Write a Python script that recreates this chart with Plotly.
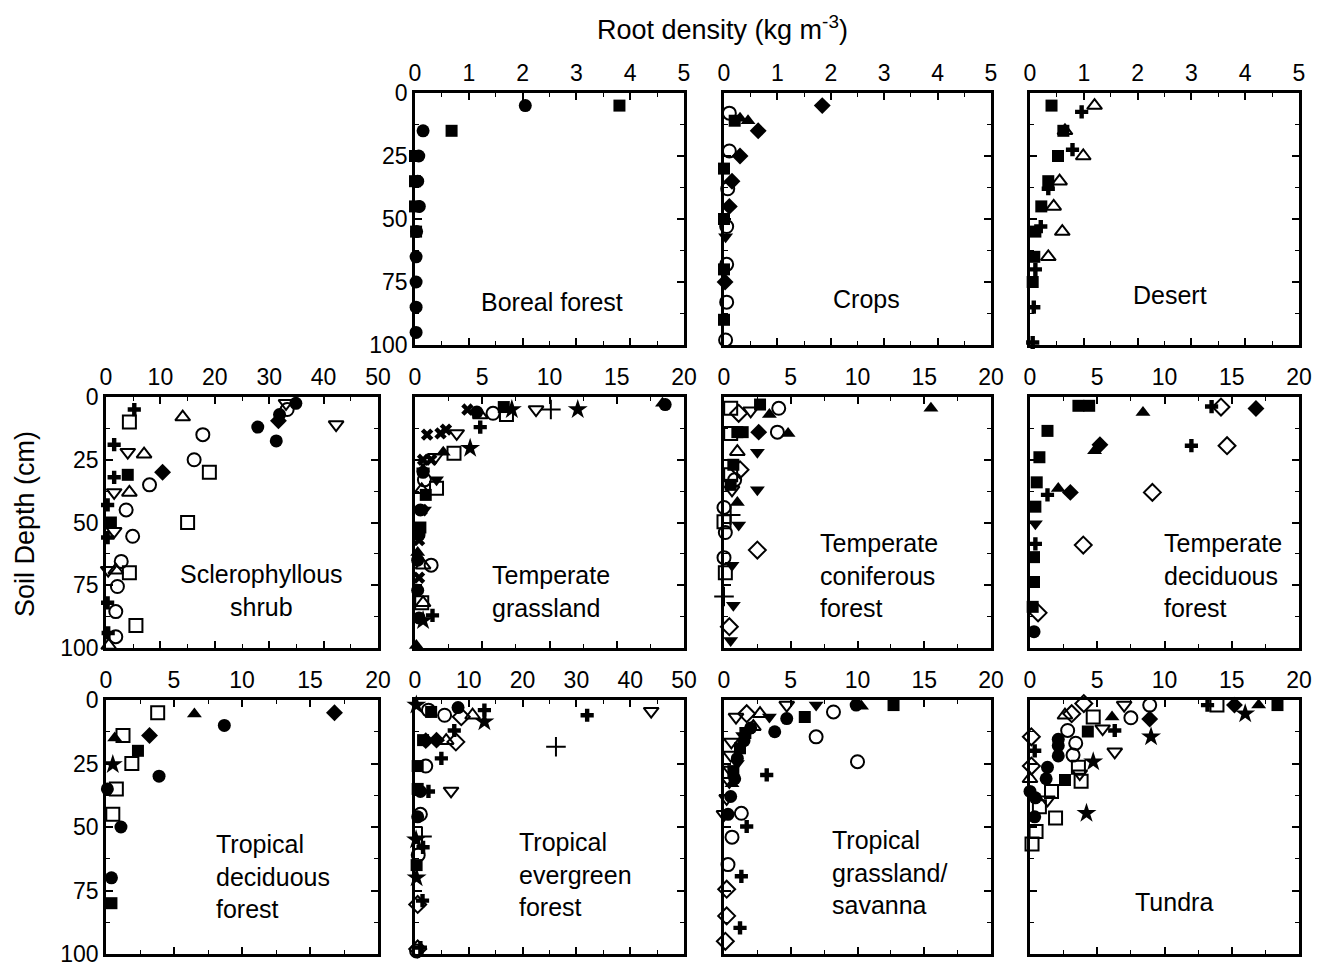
import plotly.graph_objects as go

# ===================== DATA (root density kg m-3 vs soil depth cm) =====================
# ---- Boreal forest
boreal_fc_x = [2.05, 0.15, 0.07, 0.05, 0.08, 0.03, 0.02, 0.02, 0.02, 0.02]
boreal_fc_y = [5, 15, 25, 35, 45, 55, 65, 75, 85, 95]
boreal_fs_x = [3.8, 0.68, 0.0, 0.0, 0.0, 0.02]
boreal_fs_y = [5, 15, 25, 35, 45, 55]

# ---- Crops
crops_fd_x = [1.84, 0.64, 0.3, 0.15, 0.1, 0.02]
crops_fd_y = [5, 15, 25, 35, 45, 75]
crops_oc_x = [0.1, 0.1, 0.07, 0.05, 0.05, 0.05, 0.03]
crops_oc_y = [8, 23, 38, 53, 68, 83, 98]
crops_ft_x = [0.3, 0.45]
crops_ft_y = [10, 11]
crops_fs_x = [0.2, 0.0, 0.0, 0.0, 0.0]
crops_fs_y = [11, 30, 50, 70, 90]
crops_fv_x = [0.03]
crops_fv_y = [57]

# ---- Desert
desert_fs_x = [0.4, 0.62, 0.52, 0.34, 0.21, 0.1, 0.08, 0.05]
desert_fs_y = [5, 15, 25, 35, 45, 55, 65, 75]
desert_ot_x = [1.2, 0.65, 0.99, 0.55, 0.44, 0.6, 0.34]
desert_ot_y = [5, 15, 25, 35, 45, 55, 65]
desert_cl_x = [0.96, 0.79, 0.34, 0.2, 0.1, 0.07, 0.05]
desert_cl_y = [7.5, 22.5, 38, 53, 70, 85, 99]

# ---- Sclerophyllous shrub
scler_fc_x = [27.9, 31.9, 31.3, 34.9]
scler_fc_y = [12, 7, 17.5, 2.5]
scler_fd_x = [31.7, 10.4]
scler_fd_y = [9.5, 30]
scler_oc_x = [17.8, 33.3, 16.2, 8.0, 3.7, 4.9, 2.8, 2.1, 1.8, 1.8]
scler_oc_y = [15, 5, 25, 35, 45, 55.5, 65.5, 75.5, 85.5, 95.5]
scler_os_x = [4.3, 19.0, 15.0, 4.3, 5.5]
scler_os_y = [10, 30, 50, 70, 91]
scler_ot_x = [14.1, 7.0, 4.3, 1.8, 0.5]
scler_ot_y = [8, 22.8, 38, 69, 99]
scler_ov_x = [33.1, 42.3, 4.0, 1.5, 1.5, 0.4]
scler_ov_y = [2.5, 11, 22, 38, 53.5, 69]
scler_cl_x = [5.2, 1.5, 1.5, 0.3, 0.3, 0.3, 0.4]
scler_cl_y = [5, 19, 32, 43, 56, 82, 94]
scler_fs_x = [4.0, 0.9]
scler_fs_y = [31, 50]

# ---- Temperate grassland
tgrass_ft_x = [18.4, 2.1, 0.2, 0.1]
tgrass_ft_y = [2.5, 22, 62, 99]
tgrass_fc_x = [18.6, 4.6, 0.6, 0.4, 0.3, 0.2, 0.2, 0.3]
tgrass_fc_y = [3, 6, 30, 45, 55, 65, 77, 88]
tgrass_ot_x = [4.85, 0.5, 0.6, 0.6]
tgrass_ot_y = [7.2, 37, 67, 82]
tgrass_oc_x = [5.8, 0.7, 1.2]
tgrass_oc_y = [6.5, 33, 67]
tgrass_os_x = [6.8, 2.9, 1.6, 0.5]
tgrass_os_y = [7, 22.4, 36.4, 82]
tgrass_fs_x = [6.6, 0.8, 0.4]
tgrass_fs_y = [4, 39, 52]
tgrass_st_x = [7.2, 12.1, 4.1, 0.6]
tgrass_st_y = [5, 5, 20.4, 89]
tgrass_ov_x = [9.0, 3.1, 1.5]
tgrass_ov_y = [5, 14.5, 24]
tgrass_pl_x = [10.1]
tgrass_pl_y = [5]
tgrass_cl_x = [4.85, 0.6, 1.3]
tgrass_cl_y = [12, 29, 87]
tgrass_xm_x = [3.9, 0.9, 1.9, 2.3, 0.6, 1.2, 0.5, 0.3, 0.3]
tgrass_xm_y = [5, 15, 14.5, 13, 25, 25, 45, 57, 72]
tgrass_fv_x = [1.6, 0.7]
tgrass_fv_y = [33, 45]

# ---- Temperate coniferous forest
tconif_os_x = [0.5, 0.5, 0.5, 0.0, 0.1]
tconif_os_y = [4.5, 14.5, 31, 49.7, 70]
tconif_od_x = [1.1, 1.2, 2.5, 0.4]
tconif_od_y = [6.5, 29, 61, 91.5]
tconif_ov_x = [2.0, 0.6]
tconif_ov_y = [5.5, 37]
tconif_oc_x = [4.1, 4.0, 0.8, 0.0, 0.1, 0.0]
tconif_oc_y = [4.5, 14, 33, 44, 54, 64]
tconif_ft_x = [15.5, 3.4, 4.8, 1.0]
tconif_ft_y = [4.5, 7, 14.5, 42]
tconif_fs_x = [2.7, 1.4, 1.0, 0.7, 0.5]
tconif_fs_y = [3, 14, 14, 27, 35]
tconif_fd_x = [2.6]
tconif_fd_y = [14]
tconif_ot_x = [1.0]
tconif_ot_y = [21.8]
tconif_fv_x = [2.5, 2.5, 1.1, 0.6, 0.7, 0.5]
tconif_fv_y = [22, 37, 51, 67, 83, 97]
tconif_pl_x = [0.0, 0.5]
tconif_pl_y = [79.5, 47]

# ---- Temperate deciduous forest
tdecid_fs_x = [3.6, 4.4, 1.3, 0.7, 0.5, 0.4, 0.3, 0.3, 0.2]
tdecid_fs_y = [3.5, 3.5, 13.5, 24, 34, 43.7, 63.8, 73.7, 83.6]
tdecid_ft_x = [8.4, 4.8, 2.1]
tdecid_ft_y = [6.2, 21.4, 36.5]
tdecid_cl_x = [13.5, 12.0, 1.3, 0.4]
tdecid_cl_y = [3.8, 19.4, 39, 58.5]
tdecid_od_x = [14.2, 14.65, 9.1, 3.96, 0.6]
tdecid_od_y = [4, 19.4, 38, 59, 86]
tdecid_fd_x = [16.8, 5.2, 3.0]
tdecid_fd_y = [4.6, 19, 38]
tdecid_fv_x = [0.4]
tdecid_fv_y = [50.5]
tdecid_fc_x = [0.3]
tdecid_fc_y = [93.5]

# ---- Tropical deciduous forest
tropdec_os_x = [3.8, 1.25, 1.9, 0.76, 0.5]
tropdec_os_y = [5, 14, 25, 35, 45]
tropdec_ft_x = [6.5, 0.64]
tropdec_ft_y = [5.5, 15]
tropdec_fc_x = [8.7, 3.9, 1.1, 0.4, 0.1]
tropdec_fc_y = [10, 30, 50, 70, 35]
tropdec_fd_x = [16.8, 3.2]
tropdec_fd_y = [5, 14]
tropdec_fs_x = [2.35, 0.4]
tropdec_fs_y = [20, 80]
tropdec_st_x = [0.5]
tropdec_st_y = [25.4]

# ---- Tropical evergreen forest
tropev_st_x = [0.25, 12.9, 0.3, 0.2]
tropev_st_y = [2, 8.6, 70, 55]
tropev_fs_x = [3.0, 1.5, 0.5, 0.5, 0.3]
tropev_fs_y = [4.7, 15.8, 26, 35, 65]
tropev_oc_x = [5.5, 2.0, 1.0, 0.6, 0.3, 2.5]
tropev_oc_y = [6, 26, 45, 61, 98.8, 4]
tropev_fc_x = [8.0, 1.0, 0.5]
tropev_fc_y = [3, 36, 46]
tropev_od_x = [8.6, 7.6, 0.5, 0.5]
tropev_od_y = [6.6, 16.5, 80.5, 98]
tropev_ot_x = [10.7, 5.8]
tropev_ot_y = [6, 16]
tropev_cl_x = [12.9, 32.0, 7.3, 4.9, 1.5, 1.4, 1.0, 2.5]
tropev_cl_y = [4, 6, 12, 23, 58, 79, 97.5, 36]
tropev_ov_x = [43.9, 6.7]
tropev_ov_y = [4.4, 35.8]
tropev_pl_x = [26.2, 1.3]
tropev_pl_y = [18.4, 53.7]
tropev_fd_x = [4.0, 2.0]
tropev_fd_y = [15.8, 16]

# ---- Tropical grassland / savanna
tropgr_ov_x = [0.9, 4.7, 0.55, 0.5, 0.5, 0.4, 0.2, 0.0]
tropgr_ov_y = [6.7, 2, 16.5, 21.7, 27.6, 32, 38.7, 45]
tropgr_od_x = [1.7, 0.2, 0.2, 0.1]
tropgr_od_y = [5.4, 74.5, 85, 95]
tropgr_ot_x = [2.7, 2.2]
tropgr_ot_y = [5.4, 10.5]
tropgr_fv_x = [3.4, 6.9, 1.4, 1.0]
tropgr_fv_y = [6.7, 2, 14, 25]
tropgr_fc_x = [4.7, 3.8, 2.0, 1.5, 1.0, 0.8, 0.5, 0.3, 9.9]
tropgr_fc_y = [7.3, 12.5, 11, 16, 23, 31, 38, 45, 2]
tropgr_fs_x = [6.05, 12.7, 1.6, 1.2, 0.7]
tropgr_fs_y = [6.7, 2, 13, 19, 28]
tropgr_oc_x = [8.2, 6.9, 10.0, 1.3, 0.6, 0.3]
tropgr_oc_y = [4.7, 14.5, 24.3, 44.6, 54, 64.8]
tropgr_ft_x = [10.3, 1.7, 0.6]
tropgr_ft_y = [2.5, 12, 33]
tropgr_cl_x = [3.2, 1.7, 1.3, 1.2]
tropgr_cl_y = [29.5, 49.8, 69.4, 89.7]

# ---- Tundra
tundra_od_x = [4.0, 3.1, 0.1, 0.1]
tundra_od_y = [1.4, 5.4, 14.5, 26]
tundra_ov_x = [7.0, 5.4, 6.3, 1.3, 3.7]
tundra_ov_y = [2, 11.3, 20.4, 39.3, 29]
tundra_oc_x = [8.9, 7.5, 2.8, 3.4, 3.2]
tundra_oc_y = [2, 7, 12, 17, 21.7]
tundra_os_x = [13.9, 4.7, 3.6, 3.8, 1.6, 0.7, 1.9, 0.45, 0.15]
tundra_os_y = [2, 6.7, 26.5, 32, 36, 42, 46.5, 51.8, 56.7]
tundra_fd_x = [15.2, 8.9]
tundra_fd_y = [2, 7.5]
tundra_st_x = [16.0, 9.0, 4.7, 4.2]
tundra_st_y = [5.4, 14.5, 24.3, 44.6]
tundra_ft_x = [17.0, 6.1]
tundra_ft_y = [2, 6.7]
tundra_fs_x = [18.4, 4.3, 2.6]
tundra_fs_y = [2, 12.4, 31.5]
tundra_ot_x = [2.6, 0.0]
tundra_ot_y = [6, 31]
tundra_cl_x = [6.3, 0.35, 13.2]
tundra_cl_y = [12, 20, 2]
tundra_fc_x = [2.1, 2.1, 2.1, 1.3, 1.2, 0.0, 0.4, 0.35]
tundra_fc_y = [15.5, 18, 22, 26.5, 31, 36, 38.5, 46]

# tick labels
depth_ticks = [0, 25, 50, 75, 100]

# ===================== STYLE =====================
STY = {
    'fc': ('circle', 13), 'oc': ('circle-open', 13),
    'fs': ('square', 12), 'os': ('square-open', 13),
    'fd': ('diamond', 13), 'od': ('diamond-open', 13),
    'ft': ('triangle-up', 13), 'ot': ('triangle-up-open', 13),
    'fv': ('triangle-down', 13), 'ov': ('triangle-down-open', 13),
    'st': ('star', 15), 'pl': ('cross-thin-open', 14),
    'cl': ('cross', 11), 'xm': ('x', 11),
}

panels = [
    dict(row=0, col=1, xmax=5, series=[('fc', boreal_fc_x, boreal_fc_y), ('fs', boreal_fs_x, boreal_fs_y)]),
    dict(row=0, col=2, xmax=5, series=[('fd', crops_fd_x, crops_fd_y), ('ft', crops_ft_x, crops_ft_y),
                                       ('fs', crops_fs_x, crops_fs_y), ('fv', crops_fv_x, crops_fv_y),
                                       ('oc', crops_oc_x, crops_oc_y)]),
    dict(row=0, col=3, xmax=5, series=[('fs', desert_fs_x, desert_fs_y), ('ot', desert_ot_x, desert_ot_y),
                                       ('cl', desert_cl_x, desert_cl_y)]),
    dict(row=1, col=0, xmax=50, series=[('fc', scler_fc_x, scler_fc_y), ('fd', scler_fd_x, scler_fd_y),
                                        ('oc', scler_oc_x, scler_oc_y), ('os', scler_os_x, scler_os_y),
                                        ('ot', scler_ot_x, scler_ot_y), ('ov', scler_ov_x, scler_ov_y),
                                        ('cl', scler_cl_x, scler_cl_y), ('fs', scler_fs_x, scler_fs_y)]),
    dict(row=1, col=1, xmax=20, series=[('ft', tgrass_ft_x, tgrass_ft_y), ('fc', tgrass_fc_x, tgrass_fc_y),
                                        ('ot', tgrass_ot_x, tgrass_ot_y), ('oc', tgrass_oc_x, tgrass_oc_y),
                                        ('os', tgrass_os_x, tgrass_os_y), ('fs', tgrass_fs_x, tgrass_fs_y),
                                        ('st', tgrass_st_x, tgrass_st_y), ('ov', tgrass_ov_x, tgrass_ov_y),
                                        ('pl', tgrass_pl_x, tgrass_pl_y), ('cl', tgrass_cl_x, tgrass_cl_y),
                                        ('xm', tgrass_xm_x, tgrass_xm_y), ('fv', tgrass_fv_x, tgrass_fv_y)]),
    dict(row=1, col=2, xmax=20, series=[('os', tconif_os_x, tconif_os_y), ('od', tconif_od_x, tconif_od_y),
                                        ('ov', tconif_ov_x, tconif_ov_y), ('oc', tconif_oc_x, tconif_oc_y),
                                        ('ft', tconif_ft_x, tconif_ft_y), ('fs', tconif_fs_x, tconif_fs_y),
                                        ('fd', tconif_fd_x, tconif_fd_y), ('ot', tconif_ot_x, tconif_ot_y),
                                        ('fv', tconif_fv_x, tconif_fv_y), ('pl', tconif_pl_x, tconif_pl_y)]),
    dict(row=1, col=3, xmax=20, series=[('fs', tdecid_fs_x, tdecid_fs_y), ('ft', tdecid_ft_x, tdecid_ft_y),
                                        ('cl', tdecid_cl_x, tdecid_cl_y), ('od', tdecid_od_x, tdecid_od_y),
                                        ('fd', tdecid_fd_x, tdecid_fd_y), ('fv', tdecid_fv_x, tdecid_fv_y),
                                        ('fc', tdecid_fc_x, tdecid_fc_y)]),
    dict(row=2, col=0, xmax=20, series=[('os', tropdec_os_x, tropdec_os_y), ('ft', tropdec_ft_x, tropdec_ft_y),
                                        ('fc', tropdec_fc_x, tropdec_fc_y), ('fd', tropdec_fd_x, tropdec_fd_y),
                                        ('fs', tropdec_fs_x, tropdec_fs_y), ('st', tropdec_st_x, tropdec_st_y)]),
    dict(row=2, col=1, xmax=50, series=[('st', tropev_st_x, tropev_st_y), ('fs', tropev_fs_x, tropev_fs_y),
                                        ('oc', tropev_oc_x, tropev_oc_y), ('fc', tropev_fc_x, tropev_fc_y),
                                        ('od', tropev_od_x, tropev_od_y), ('ot', tropev_ot_x, tropev_ot_y),
                                        ('cl', tropev_cl_x, tropev_cl_y), ('ov', tropev_ov_x, tropev_ov_y),
                                        ('pl', tropev_pl_x, tropev_pl_y), ('fd', tropev_fd_x, tropev_fd_y)]),
    dict(row=2, col=2, xmax=20, series=[('ov', tropgr_ov_x, tropgr_ov_y), ('od', tropgr_od_x, tropgr_od_y),
                                        ('ot', tropgr_ot_x, tropgr_ot_y), ('fv', tropgr_fv_x, tropgr_fv_y),
                                        ('fc', tropgr_fc_x, tropgr_fc_y), ('fs', tropgr_fs_x, tropgr_fs_y),
                                        ('oc', tropgr_oc_x, tropgr_oc_y), ('ft', tropgr_ft_x, tropgr_ft_y),
                                        ('cl', tropgr_cl_x, tropgr_cl_y)]),
    dict(row=2, col=3, xmax=20, series=[('od', tundra_od_x, tundra_od_y), ('ov', tundra_ov_x, tundra_ov_y),
                                        ('oc', tundra_oc_x, tundra_oc_y), ('os', tundra_os_x, tundra_os_y),
                                        ('fd', tundra_fd_x, tundra_fd_y), ('st', tundra_st_x, tundra_st_y),
                                        ('ft', tundra_ft_x, tundra_ft_y), ('fs', tundra_fs_x, tundra_fs_y),
                                        ('ot', tundra_ot_x, tundra_ot_y), ('cl', tundra_cl_x, tundra_cl_y),
                                        ('fc', tundra_fc_x, tundra_fc_y)]),
]

OFF = 8                      # page body margin of the html page
W, H = 1321 - OFF, 970 - OFF
COLS = [(106, 378), (415, 684), (724, 991), (1030, 1299)]
ROWS = [(93, 345), (397, 648), (700, 954)]
FONT = "Liberation Sans, Arial, Helvetica, sans-serif"


def fx(px):
    return (px - OFF) / W


def fy(py):
    return 1 - (py - OFF) / H


fig = go.Figure()
layout = dict(width=W, height=H, autosize=False, margin=dict(l=0, r=0, t=0, b=0, pad=0, autoexpand=False),
              paper_bgcolor='white', plot_bgcolor='white', showlegend=False,
              font=dict(family=FONT, color='black'))

for i, p in enumerate(panels, start=1):
    sx = '' if i == 1 else str(i)
    x0, x1 = COLS[p['col']]
    y0, y1 = ROWS[p['row']]
    xmax = p['xmax']
    dt = {5: 1, 20: 5, 50: 10}[xmax]
    layout['xaxis' + sx] = dict(
        domain=[fx(x0), fx(x1)], anchor='y' + sx, side='top', range=[0, xmax], automargin=False,
        dtick=dt, tick0=0, ticks='inside', ticklen=7, tickwidth=1.5, tickcolor='black',
        minor=dict(dtick=dt / 2, ticks='inside', ticklen=4, tickwidth=1.2, tickcolor='black'),
        showline=True, linewidth=2.5, linecolor='black', mirror='ticks',
        showgrid=False, zeroline=False, tickfont=dict(size=23, family=FONT))
    layout['yaxis' + sx] = dict(
        domain=[fy(y1), fy(y0)], anchor='x' + sx, range=[100, 0], automargin=False,
        tickvals=depth_ticks, ticks='inside', ticklen=7, tickwidth=1.5, tickcolor='black',
        minor=dict(dtick=12.5, tick0=0, ticks='inside', ticklen=4, tickwidth=1.2, tickcolor='black'),
        showline=True, linewidth=2.5, linecolor='black', mirror='ticks',
        showgrid=False, zeroline=False, showticklabels=(p['col'] == 0 or (p['row'] == 0 and p['col'] == 1)),
        tickfont=dict(size=23, family=FONT))
    for key, xs, ys in p['series']:
        sym, size = STY[key]
        fig.add_trace(go.Scatter(
            x=xs, y=ys, mode='markers', xaxis='x' + sx, yaxis='y' + sx, cliponaxis=False,
            marker=dict(symbol=sym, size=size, color='black',
                        line=dict(width=2 if 'open' in sym else 0, color='black'))))

labels = [
    ("Boreal forest", 552, 302, 'center'),
    ("Crops", 866, 299, 'center'),
    ("Desert", 1170, 295, 'center'),
    ("Sclerophyllous<br>shrub", 262, 590, 'center'),
    ("Temperate<br>grassland", 490, 591, 'left'),
    ("Temperate<br>coniferous<br>forest", 818, 575, 'left'),
    ("Temperate<br>deciduous<br>forest", 1162, 575, 'left'),
    ("Tropical<br>deciduous<br>forest", 214, 876, 'left'),
    ("Tropical<br>evergreen<br>forest", 517, 874, 'left'),
    ("Tropical<br>grassland/<br>savanna", 830, 872, 'left'),
    ("Tundra", 1174, 902, 'center'),
]
ann = []
for text, px, py, al in labels:
    ann.append(dict(text=text, x=fx(px), y=fy(py), xref='paper', yref='paper',
                    xanchor=al, yanchor='middle', align=al, showarrow=False,
                    font=dict(size=25, family=FONT, color='black')))
ann.append(dict(text="Root density (kg m<sup>-3</sup>)", x=fx(722), y=fy(28), xref='paper', yref='paper',
                xanchor='center', yanchor='middle', showarrow=False,
                font=dict(size=27, family=FONT, color='black')))
ann.append(dict(text="Soil Depth (cm)", x=fx(25), y=fy(524), xref='paper', yref='paper',
                xanchor='center', yanchor='middle', textangle=-90, showarrow=False,
                font=dict(size=27, family=FONT, color='black')))
layout['annotations'] = ann
fig.update_layout(**layout)
fig.write_html("out.html")
